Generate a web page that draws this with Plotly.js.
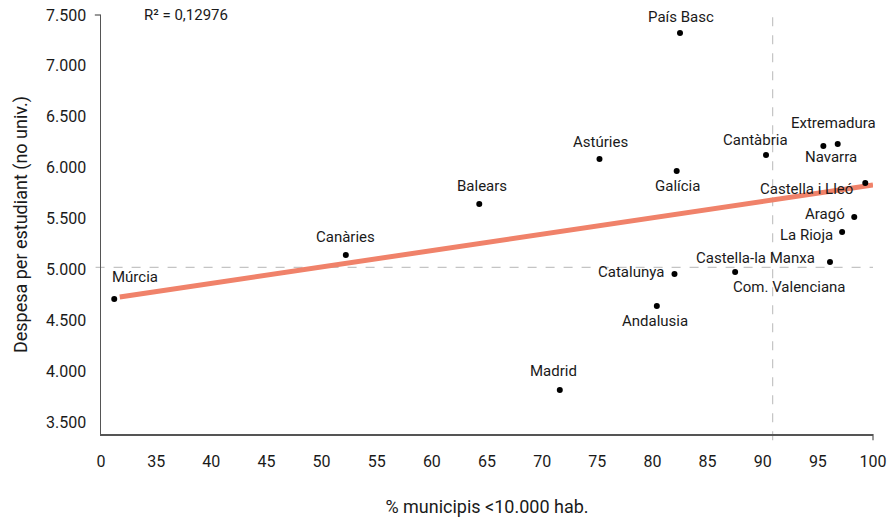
<!DOCTYPE html>
<html>
<head>
<meta charset="utf-8">
<script src="https://cdn.plot.ly/plotly-3.0.1.min.js"></script>
<style>html,body{margin:0;padding:0;background:#fff}#chart{width:890px;height:519px}</style>
</head>
<body>
<div id="chart"></div>
<script>
// Data
var regions = ["Múrcia","Canàries","Balears","Astúries","País Basc","Galícia","Cantàbria","Extremadura","Navarra","Castella i Lleó","Aragó","La Rioja","Castella-la Manxa","Catalunya","Com. Valenciana","Andalusia","Madrid"];
var pctSmallMunicipalities = [31.2, 52.2, 64.3, 75.2, 82.5, 82.2, 90.3, 96.8, 95.5, 99.3, 98.3, 97.2, 96.1, 82.0, 87.5, 80.4, 71.6];
var spendingPerStudent = [4709, 5141, 5643, 6085, 7323, 5967, 6124, 6232, 6213, 5849, 5515, 5367, 5072, 4955, 4974, 4640, 3814];
var trendX = [31.7, 100];
var trendY = [4729, 5829];
var meanX = 90.9;
var meanY = 5020;
var xTickVals = [30, 35, 40, 45, 50, 55, 60, 65, 70, 75, 80, 85, 90, 95, 100];
var xTickText = ["0", "35", "40", "45", "50", "55", "60", "65", "70", "75", "80", "85", "90", "95", "100"];
var yTickVals = [3500, 4000, 4500, 5000, 5500, 6000, 6500, 7000, 7500];
var yTickText = ["3.500", "4.000", "4.500", "5.000", "5.500", "6.000", "6.500", "7.000", "7.500"];
var r2Text = "R² = 0,12976";

// label placement (style only)
var labelPos = {
  "Múrcia": {xa:"center", dx:21, dy:22},
  "Canàries": {xa:"center", dx:0, dy:18},
  "Balears": {xa:"center", dx:3, dy:18},
  "Astúries": {xa:"center", dx:1, dy:17},
  "País Basc": {xa:"center", dx:1, dy:16},
  "Galícia": {xa:"center", dx:1, dy:-15},
  "Cantàbria": {xa:"center", dx:-11, dy:15},
  "Extremadura": {xa:"center", dx:-4, dy:21},
  "Navarra": {xa:"center", dx:8, dy:-11},
  "Castella i Lleó": {xa:"right", dx:-10, dy:-6},
  "Aragó": {xa:"right", dx:-7, dy:3},
  "La Rioja": {xa:"right", dx:-7, dy:-3},
  "Castella-la Manxa": {xa:"right", dx:-13, dy:4},
  "Catalunya": {xa:"right", dx:-8, dy:2},
  "Com. Valenciana": {xa:"left", dx:-4, dy:-15},
  "Andalusia": {xa:"center", dx:-2, dy:-15},
  "Madrid": {xa:"center", dx:-6, dy:19}
};

var font = "Roboto, 'Noto Sans', sans-serif";
var textColor = "#1a1a1a";

var annotations = regions.map(function(r, i){
  var p = labelPos[r];
  return {x: pctSmallMunicipalities[i], y: spendingPerStudent[i], xref:"x", yref:"y",
    text: r, showarrow:false, xanchor:p.xa, yanchor:"middle", xshift:p.dx, yshift:p.dy,
    font:{family:font, size:15, color:textColor}};
});
annotations.push({xref:"paper", yref:"paper", x:0.053, y:1, xanchor:"left", yanchor:"middle",
  text:r2Text, showarrow:false, font:{family:font, size:15, color:textColor}});

var traces = [
  {x: trendX, y: trendY, mode:"lines", line:{color:"#f0826a", width:5}, hoverinfo:"skip"},
  {x: pctSmallMunicipalities, y: spendingPerStudent, mode:"markers", marker:{color:"#000", size:6}, text: regions}
];

var layout = {
  width: 890, height: 519,
  margin: {l:101, r:17, t:15, b:85},
  paper_bgcolor:"#fff", plot_bgcolor:"#fff",
  showlegend:false,
  font:{family:font, color:textColor},
  xaxis: {range:[30,100], tickvals:xTickVals, ticktext:xTickText, showgrid:false, zeroline:false,
    showline:true, linecolor:"#555", linewidth:1.5, ticks:"", ticklabelstandoff:12,
    tickfont:{family:font, size:16, color:textColor},
    title:{text:"% municipis <10.000 hab.", font:{family:font, size:18, color:textColor}, standoff:30}},
  yaxis: {range:[3382,7500], tickvals:yTickVals, ticktext:yTickText, showgrid:false, zeroline:false,
    showline:true, linecolor:"#555", linewidth:1.5, ticks:"", ticklabelstandoff:10,
    tickfont:{family:font, size:16, color:textColor},
    title:{text:"Despesa per estudiant (no univ.)", font:{family:font, size:18, color:textColor}, standoff:14}},
  shapes: [
    {type:"line", xref:"paper", yref:"y", x0:-0.007, x1:1, y0:meanY, y1:meanY, line:{color:"#c4c4c4", width:1.2, dash:"dash"}, layer:"below"},
    {type:"line", xref:"x", yref:"paper", x0:meanX, x1:meanX, y0:-0.015, y1:1, line:{color:"#c4c4c4", width:1.2, dash:"dash"}, layer:"below"},
    {type:"line", xref:"paper", yref:"paper", x0:-0.008, x1:0, y0:1, y1:1, line:{color:"#555", width:1.2}},
    {type:"line", xref:"paper", yref:"paper", x0:1, x1:1, y0:-0.015, y1:0, line:{color:"#555", width:1.2}}
  ],
  annotations: annotations
};

Plotly.newPlot("chart", traces, layout, {displayModeBar:false, staticPlot:true});
</script>
</body>
</html>
